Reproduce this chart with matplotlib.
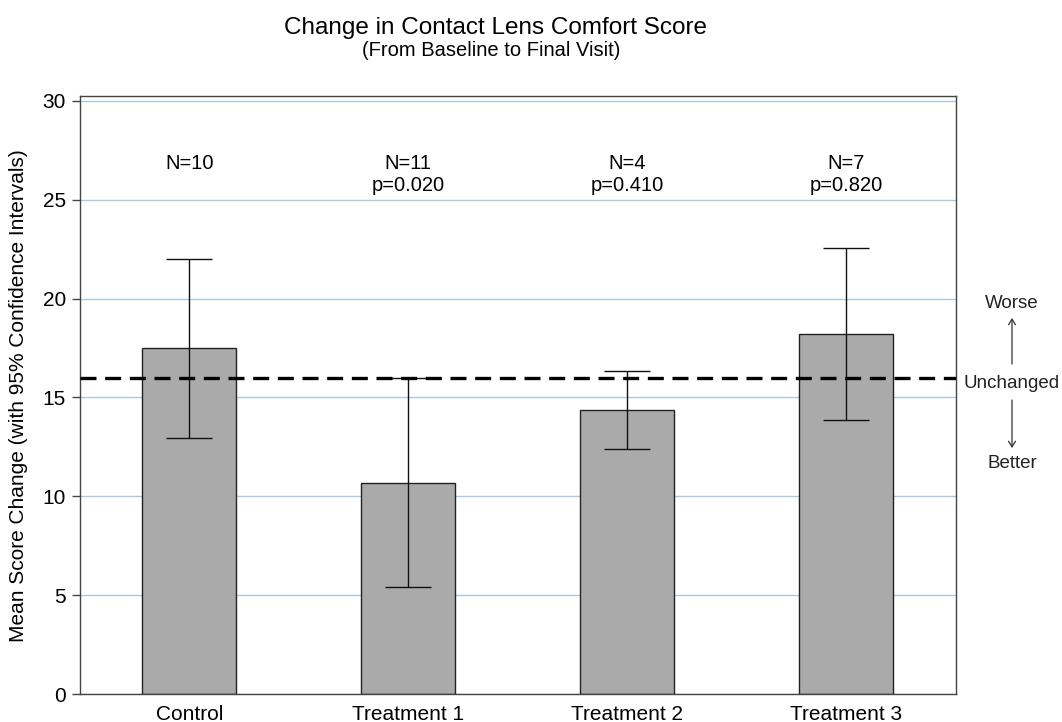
import matplotlib
matplotlib.use("Agg")
import matplotlib.pyplot as plt
import numpy as np

categories = ["Control", "Treatment 1", "Treatment 2", "Treatment 3"]
means = [17.5, 10.65, 14.35, 18.2]
ci_low = [12.95, 5.42, 12.38, 13.85]
ci_high = [22.0, 16.0, 16.32, 22.55]
n_labels = ["N=10", "N=11", "N=4", "N=7"]
p_labels = ["", "p=0.020", "p=0.410", "p=0.820"]
reference = 16.0
yticks = [0, 5, 10, 15, 20, 25, 30]

plt.rcParams['font.family'] = ['Liberation Sans', 'DejaVu Sans']

fig = plt.figure(figsize=(10.62, 7.22), dpi=100)
ax = fig.add_axes([80/1062, 1-694/722, 875.5/1062, 598/722])

x = np.arange(len(categories))
means_a = np.array(means)
yerr = np.vstack([means_a - np.array(ci_low), np.array(ci_high) - means_a])

ax.set_axisbelow(True)
ax.yaxis.grid(True, color='#A9C9E2', linewidth=1.0)
ax.bar(x, means, width=0.43, color='#AAAAAA', edgecolor='#222222', linewidth=1.0, zorder=2)
ax.errorbar(x, means, yerr=yerr, fmt='none', ecolor='#111111', elinewidth=1.0,
            capsize=16.9, capthick=1.0, zorder=3)
ax.axhline(reference, color='black', linewidth=2.4, dashes=(4.8, 2.6), zorder=4)

for xi, nl, pl in zip(x, n_labels, p_labels):
    ax.text(xi, 26.85, nl, ha='center', va='center', fontsize=14.5, color='black')
    if pl:
        ax.text(xi, 25.72, pl, ha='center', va='center', fontsize=14.5, color='black')

ax.set_xlim(-0.5, 3.5)
ax.set_ylim(0, 30.25)
ax.set_yticks(yticks)
ax.set_yticklabels([str(t) for t in yticks], fontsize=15)
ax.set_xticks(x)
ax.set_xticklabels(categories, fontsize=15)
ax.tick_params(axis='x', length=0, pad=8)
ax.tick_params(axis='y', length=6, width=1, color='#444444', pad=4)
for s in ax.spines.values():
    s.set_color('#444444')
    s.set_linewidth(1.0)
fig.text(19/1062, 1-396/722, "Mean Score Change (with 95% Confidence Intervals)",
         rotation=90, ha='center', va='center', fontsize=15)

fig.text(496/1062, 1-28/722, "Change in Contact Lens Comfort Score", ha='center', va='center', fontsize=17.5)
fig.text(491/1062, 1-50/722, "(From Baseline to Final Visit)", ha='center', va='center', fontsize=14.5)

# right side annotation
xr = 1012/1062
fig.text(xr, 1-304/722, "Worse", ha='center', va='center', fontsize=13.5, color='#222222')
fig.text(xr, 1-383/722, "Unchanged", ha='center', va='center', fontsize=13.5, color='#222222')
fig.text(xr, 1-463/722, "Better", ha='center', va='center', fontsize=13.5, color='#222222')
fig.add_artist(matplotlib.patches.FancyArrowPatch((xr, 1-364/722), (xr, 1-318/722),
               transform=fig.transFigure, arrowstyle='->,head_length=4,head_width=2.5',
               color='#333333', linewidth=0.9, shrinkA=0, shrinkB=0))
fig.add_artist(matplotlib.patches.FancyArrowPatch((xr, 1-400/722), (xr, 1-448/722),
               transform=fig.transFigure, arrowstyle='->,head_length=4,head_width=2.5',
               color='#333333', linewidth=0.9, shrinkA=0, shrinkB=0))

fig.savefig("out.png", dpi=100)
